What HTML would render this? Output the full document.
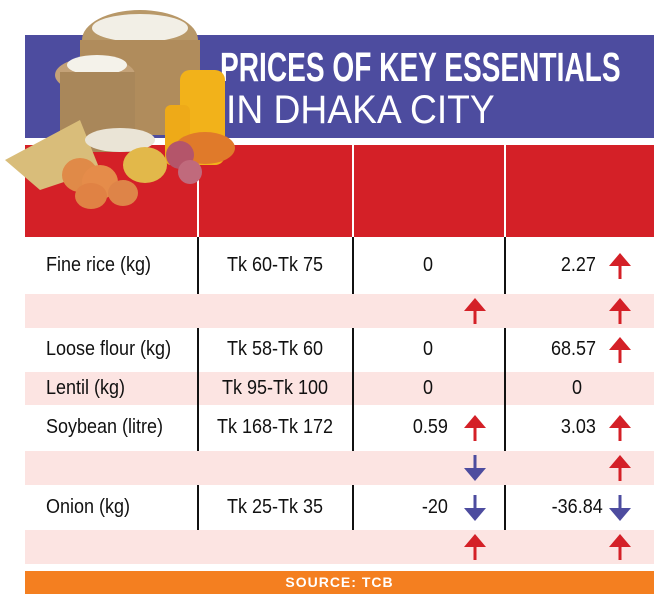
<!DOCTYPE html>
<html><head><meta charset="utf-8"><style>
body{margin:0;background:#fff;}
#wrap{position:relative;width:654px;height:597px;overflow:hidden;background:#fff;font-family:"Liberation Sans",sans-serif;}
.abs{position:absolute;}
.t{position:absolute;font-size:20px;color:#111;white-space:nowrap;transform:scaleX(0.9);}
</style></head><body>
<div id="wrap">
<div class="abs" style="left:25px;top:35px;width:629px;height:103px;background:#4d4c9f"></div>
<div class="abs" style="left:220px;top:44px;font-size:41px;font-weight:bold;color:#fff;white-space:nowrap;transform:scaleX(0.685);transform-origin:left top;">PRICES OF KEY ESSENTIALS</div>
<div class="abs" style="left:226px;top:88px;font-size:40px;color:#fff;white-space:nowrap;transform:scaleX(0.93);transform-origin:left top;font-weight:normal;">IN DHAKA CITY</div>
<div class="abs" style="left:25px;top:145px;width:629px;height:92px;background:#d42027"></div>
<div class="abs" style="left:197px;top:145px;width:2px;height:92px;background:#fff"></div>
<div class="abs" style="left:352px;top:145px;width:2px;height:92px;background:#fff"></div>
<div class="abs" style="left:504px;top:145px;width:2px;height:92px;background:#fff"></div>
<svg class="abs" style="left:0;top:0" width="240" height="210">
<ellipse cx="140" cy="40" rx="58" ry="30" fill="#b89868"/>
<ellipse cx="140" cy="28" rx="48" ry="14" fill="#f2efe6"/>
<rect x="80" y="40" width="120" height="95" fill="#b08c5c"/>
<ellipse cx="95" cy="75" rx="40" ry="18" fill="#c4a278"/>
<ellipse cx="97" cy="65" rx="30" ry="10" fill="#f4f2ea"/>
<rect x="60" y="72" width="75" height="80" fill="#a9875a"/>
<rect x="180" y="70" width="45" height="95" rx="10" fill="#f2b21a"/>
<rect x="165" y="105" width="25" height="60" rx="6" fill="#eeaa18"/>
<path d="M5 160 L80 120 L100 170 L40 190 Z" fill="#d9bd7a"/>
<ellipse cx="120" cy="140" rx="35" ry="12" fill="#eae4d6"/>
<ellipse cx="205" cy="148" rx="30" ry="16" fill="#e07a2a"/>
<ellipse cx="180" cy="155" rx="14" ry="14" fill="#b4556a"/>
<ellipse cx="190" cy="172" rx="12" ry="12" fill="#c06a7c"/>
<ellipse cx="145" cy="165" rx="22" ry="18" fill="#e2b84a"/>
<ellipse cx="80" cy="175" rx="18" ry="17" fill="#e08a48"/>
<ellipse cx="100" cy="182" rx="18" ry="17" fill="#e58c4a"/>
<ellipse cx="91" cy="196" rx="16" ry="13" fill="#e08244"/>
<ellipse cx="123" cy="193" rx="15" ry="13" fill="#de8448"/>
</svg>
<div id="rows"></div>
<div class="abs" style="left:25px;top:571px;width:629px;height:23px;background:#f47f20;color:#fff;font-weight:bold;font-size:14px;text-align:center;line-height:23px;letter-spacing:1px">SOURCE: TCB</div>
</div>
<script>
const items=["Fine rice (kg)","","Loose flour (kg)","Lentil (kg)","Soybean (litre)","","Onion (kg)",""];
const ranges=["Tk 60-Tk 75","","Tk 58-Tk 60","Tk 95-Tk 100","Tk 168-Tk 172","","Tk 25-Tk 35",""];
const changeA=["0","","0","0","0.59","","-20",""];
const changeB=["2.27","","68.57","0","3.03","","-36.84",""];
const arrowA=["","up","","","up","down","down","up"];
const arrowB=["up","up","up","","up","up","down","up"];
const rowTops=[237,294,328,372,405,451,485,530,564];
const pink=[false,true,false,true,false,true,false,true];
const wrap=document.getElementById('wrap');
function arrow(dir,x,yc){
  const s=document.createElementNS('http://www.w3.org/2000/svg','svg');
  s.setAttribute('width','24');s.setAttribute('height','28');
  s.setAttribute('class','abs');
  s.style.left=(x-12)+'px';s.style.top=(yc-14)+'px';
  
  
  const c=dir==='up'?'#d42027':'#4d4c9f';
  s.innerHTML=dir==='up'?`<polygon points="12,1 23,14 1,14" fill="${c}"/><rect x="10.5" y="13" width="3" height="14" fill="${c}"/>`
  :`<rect x="10.5" y="1" width="3" height="14" fill="${c}"/><polygon points="12,27 23,14 1,14" fill="${c}"/>`;
  wrap.appendChild(s);
}
function txt(str,x,yc,align,name){
  const d=document.createElement('div');
  d.className='t';d.textContent=str;
  
  
  d.style.top=(yc-12)+'px';
  if(align==='left'){d.style.left=x+'px';d.style.transformOrigin='left center';}
  else if(align==='right'){d.style.right=(654-x)+'px';d.style.transformOrigin='right center';}
  else{d.style.left=(x-100)+'px';d.style.width='200px';d.style.textAlign='center';}
  wrap.appendChild(d);
}
for(let i=0;i<items.length;i++){
  const top=rowTops[i],h=rowTops[i+1]-top,yc=top+h/2;
  const r=document.createElement('div');
  r.className='abs';r.style.left='25px';r.style.top=top+'px';r.style.width='629px';r.style.height=h+'px';
  r.style.background=pink[i]?'#fce4e2':'#fff';
  
  
  wrap.appendChild(r);
  if(items[i]){
    [197,352,504].forEach(x=>{const l=document.createElement('div');l.className='abs';
      l.style.left=x+'px';l.style.top=top+'px';l.style.width='2px';l.style.height=h+'px';l.style.background='#111';
      
      
      wrap.appendChild(l);});
    txt(items[i],46,yc,'left','item-name');
    txt(ranges[i],275,yc,'center','price-range');
    const a=changeA[i],b=changeB[i];
    if(a==='0')txt(a,428,yc,'center','change-a');else txt(a,448,yc,'right','change-a');
    if(b==='0')txt(b,577,yc,'center','change-b');else txt(b,b.length>5?603:596,yc,'right','change-b');
  }
  if(arrowA[i])arrow(arrowA[i],475,yc);
  if(arrowB[i])arrow(arrowB[i],620,yc);
}
</script>
</body></html>
